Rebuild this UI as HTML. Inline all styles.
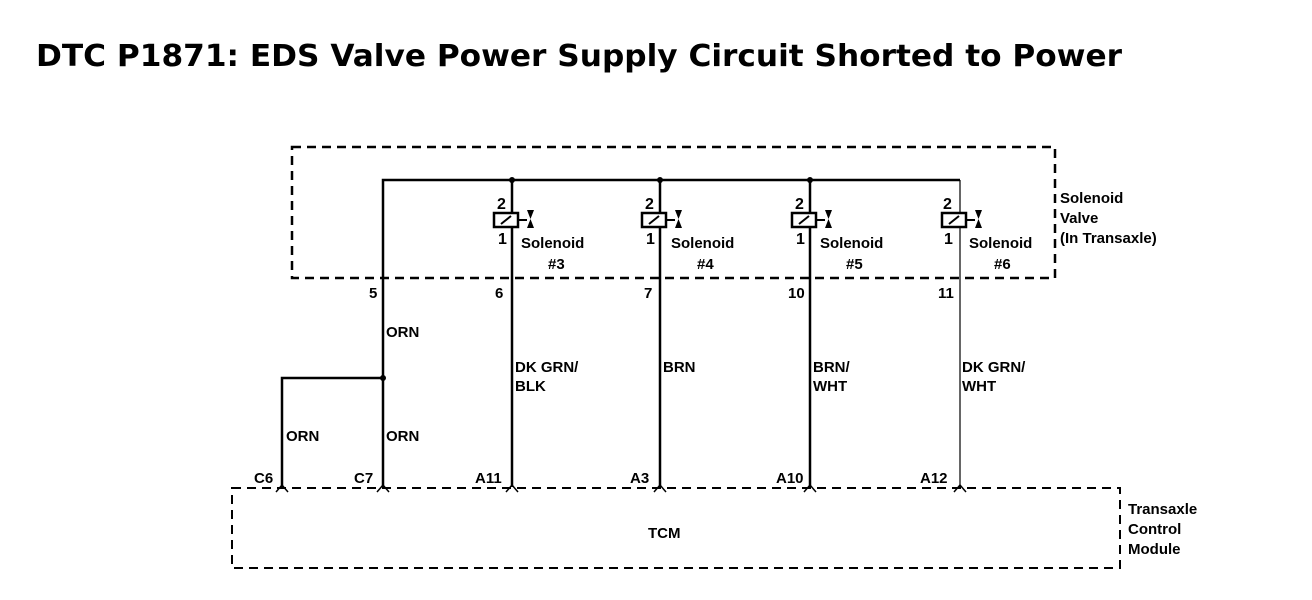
<!DOCTYPE html>
<html><head><meta charset="utf-8"><style>
html,body{margin:0;padding:0;background:#fff;}
svg{display:block}
text{font-family:"Liberation Sans",sans-serif;font-weight:bold;fill:#000}
</style></head><body>
<svg width="1312" height="600" viewBox="0 0 1312 600" xmlns="http://www.w3.org/2000/svg">
<defs>
<g id="sol">
<rect x="-18" y="213" width="24" height="14" fill="#fff" stroke="#000" stroke-width="2.5"/>
<line x1="-11" y1="224" x2="-1" y2="216" stroke="#000" stroke-width="2"/>
<polygon points="15,210 22,210 18.5,219 22,228 15,228 18.5,219" fill="#000"/>
<line x1="6" y1="220" x2="15" y2="220" stroke="#000" stroke-width="2"/>
</g>
</defs>
<text x="36" y="66" textLength="1086" lengthAdjust="spacingAndGlyphs" style="font-family:'DejaVu Sans',sans-serif;font-size:30px;font-weight:bold">DTC P1871: EDS Valve Power Supply Circuit Shorted to Power</text>
<g fill="none" stroke="#000">
<rect x="292" y="147" width="763" height="131" stroke-width="2.5" stroke-dasharray="9,6"/>
<rect x="232" y="488" width="888" height="80" stroke-width="2" stroke-dasharray="9,6"/>
<g stroke-width="2.5">
<polyline points="383,487 383,180 960,180"/>
<polyline points="383,378 282,378 282,487"/>
<line x1="512" y1="180" x2="512" y2="487"/>
<line x1="660" y1="180" x2="660" y2="487"/>
<line x1="810" y1="180" x2="810" y2="487"/>
</g>
<line x1="960" y1="180" x2="960" y2="487" stroke-width="1.2"/>
<g stroke-width="1.5">
<polyline points="276,492 282,485 288,492"/>
<polyline points="377,492 383,485 389,492"/>
<polyline points="506,492 512,485 518,492"/>
<polyline points="654,492 660,485 666,492"/>
<polyline points="804,492 810,485 816,492"/>
<polyline points="954,492 960,485 966,492"/>
</g>
</g>
<g fill="#000">
<circle cx="512" cy="180" r="3"/><circle cx="660" cy="180" r="3"/><circle cx="810" cy="180" r="3"/><circle cx="383" cy="378" r="3"/>
</g>
<use href="#sol" x="512"/><use href="#sol" x="660"/><use href="#sol" x="810"/><use href="#sol" x="960"/>
<g font-size="16">
<text x="497" y="209">2</text><text x="645" y="209">2</text><text x="795" y="209">2</text><text x="943" y="209">2</text>
<text x="498" y="244">1</text><text x="646" y="244">1</text><text x="796" y="244">1</text><text x="944" y="244">1</text>
</g>
<g font-size="15">
<text x="521" y="248">Solenoid</text><text x="548" y="269">#3</text>
<text x="671" y="248">Solenoid</text><text x="697" y="269">#4</text>
<text x="820" y="248">Solenoid</text><text x="846" y="269">#5</text>
<text x="969" y="248">Solenoid</text><text x="994" y="269">#6</text>
<text x="1060" y="203">Solenoid</text><text x="1060" y="223">Valve</text><text x="1060" y="243">(In Transaxle)</text>
<text x="1128" y="514">Transaxle</text><text x="1128" y="534">Control</text><text x="1128" y="554">Module</text>
<text x="369" y="298">5</text><text x="495" y="298">6</text><text x="644" y="298">7</text><text x="788" y="298">10</text><text x="938" y="298">11</text>
<text x="386" y="337">ORN</text>
<text x="515" y="372">DK GRN/</text><text x="515" y="391">BLK</text>
<text x="663" y="372">BRN</text>
<text x="813" y="372">BRN/</text><text x="813" y="391">WHT</text>
<text x="962" y="372">DK GRN/</text><text x="962" y="391">WHT</text>
<text x="286" y="441">ORN</text><text x="386" y="441">ORN</text>
<text x="254" y="483">C6</text><text x="354" y="483">C7</text><text x="475" y="483">A11</text><text x="630" y="483">A3</text><text x="776" y="483">A10</text><text x="920" y="483">A12</text>
<text x="648" y="538">TCM</text>
</g>
</svg>
</body></html>
